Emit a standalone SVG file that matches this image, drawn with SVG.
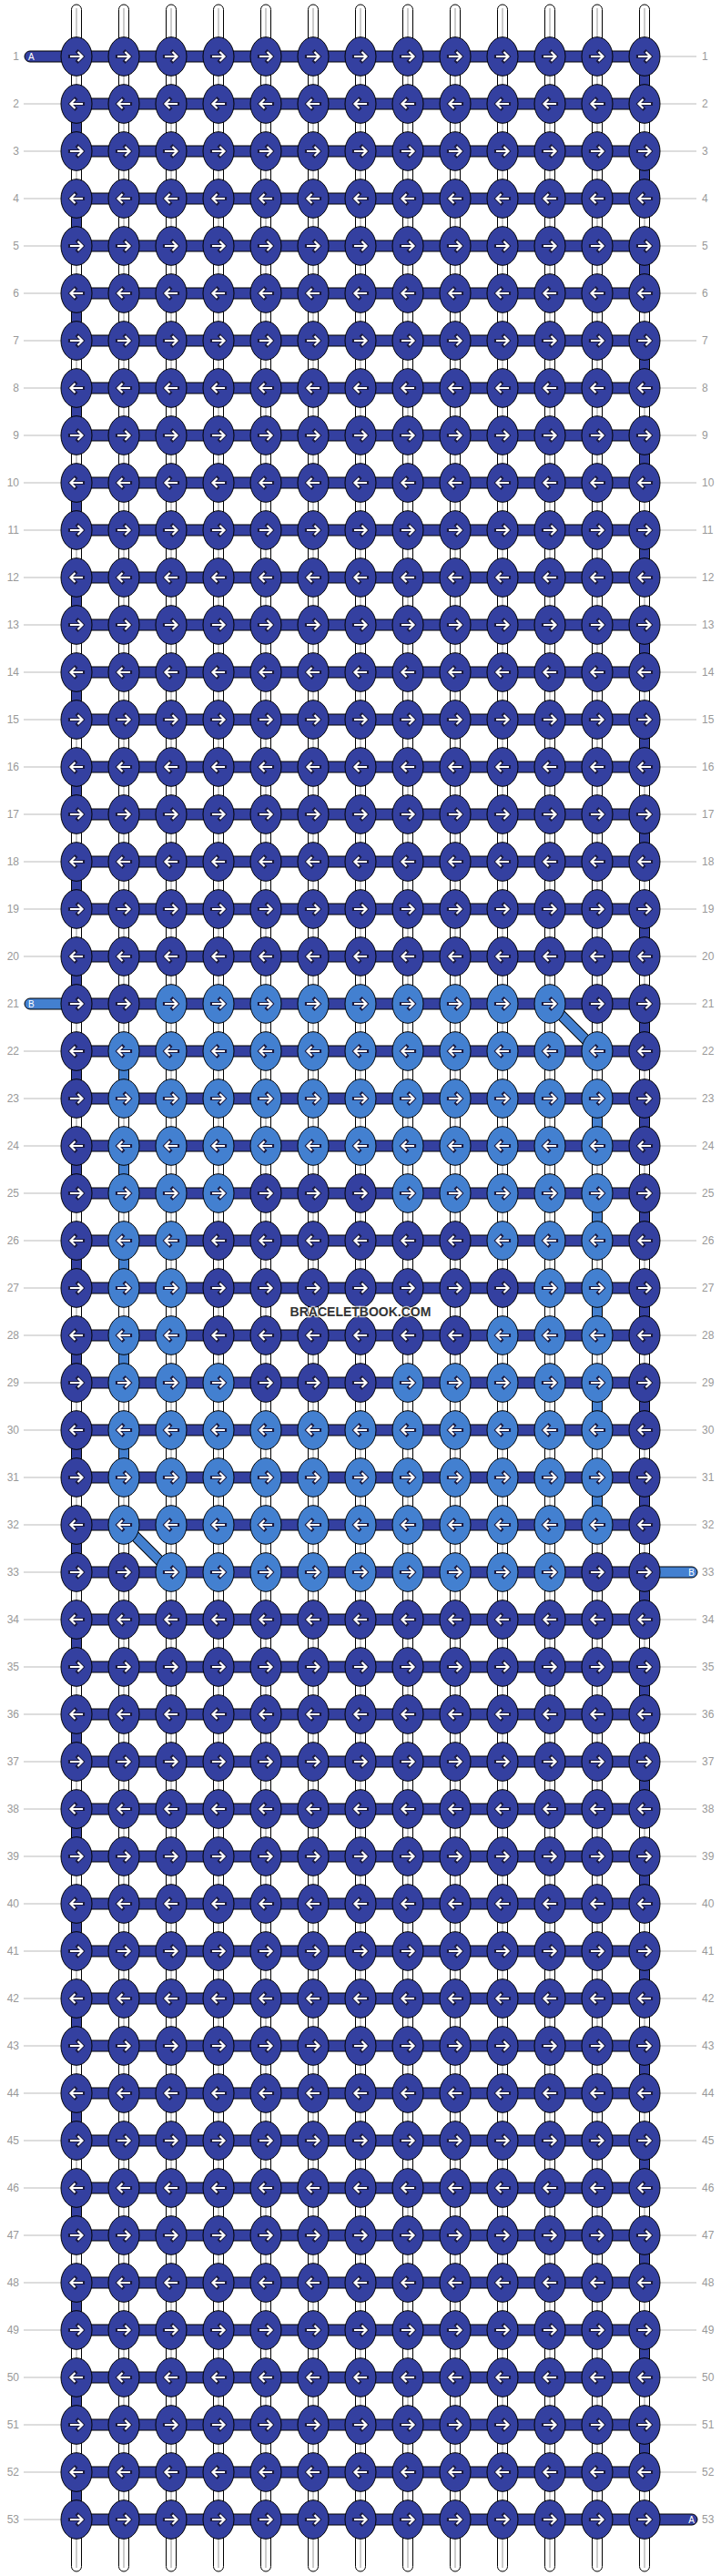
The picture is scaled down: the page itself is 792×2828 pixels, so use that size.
<svg xmlns="http://www.w3.org/2000/svg" width="792" height="2828" viewBox="0 0 792 2828">
<style>
.rod{fill:#fff;stroke:#000;stroke-width:1}
.rl{stroke:#bbb;stroke-width:1.5}
.dk{fill:#3440a0;stroke:#000;stroke-width:1}
.lt{fill:#4380d0;stroke:#000;stroke-width:1}
.ao{fill:none;stroke:#1a1a40;stroke-width:4.2;stroke-linecap:square}
.ai{fill:none;stroke:#fff;stroke-width:2.2;stroke-linecap:butt}
.gl{stroke:#bbb;stroke-width:1;fill:none}
.lb{font-family:"Liberation Sans",Arial,sans-serif;font-size:12px;fill:#999}
.le{text-anchor:end}
.st{font-family:"Liberation Sans",Arial,sans-serif;font-size:10px;fill:#fff}
.wm{font-family:"Liberation Sans",Arial,sans-serif;font-size:14px;font-weight:bold;fill:#333;stroke:#fff;stroke-opacity:0.7;stroke-width:2.5;paint-order:stroke;text-anchor:middle}
</style>
<defs>
<g id="aR"><path class="ao" d="M-7 0H6M1.5-5L6.5 0L1.5 5"/><path class="ai" d="M-7 0H6M1.5-5L6.5 0L1.5 5"/></g>
<g id="aL"><use href="#aR" transform="scale(-1 1)"/></g>
<g id="DR"><ellipse class="dk" rx="17" ry="21.3"/><use href="#aR"/></g>
<g id="DL"><ellipse class="dk" rx="17" ry="21.3"/><use href="#aL"/></g>
<g id="LR"><ellipse class="lt" rx="17" ry="21.3"/><use href="#aR"/></g>
<g id="LL"><ellipse class="lt" rx="17" ry="21.3"/><use href="#aL"/></g>
<rect id="hb" class="dk" x="84" y="-6" width="624" height="12"/>
<g id="rod"><rect class="rod" x="-5.5" y="5" width="11" height="2818" rx="5.5"/><line class="rl" x1="0" y1="9" x2="0" y2="2819"/></g>
</defs>
<g id="connectors">
<g id="strands"><use href="#rod" x="84"/><use href="#rod" x="136"/><use href="#rod" x="188"/><use href="#rod" x="240"/><use href="#rod" x="292"/><use href="#rod" x="344"/><use href="#rod" x="396"/><use href="#rod" x="448"/><use href="#rod" x="500"/><use href="#rod" x="552"/><use href="#rod" x="604"/><use href="#rod" x="656"/><use href="#rod" x="708"/></g>
<path id="turnsA" class="dk" d="M702.5 62h11v52h-11zM702.5 166h11v52h-11zM702.5 270h11v52h-11zM702.5 374h11v52h-11zM702.5 478h11v52h-11zM702.5 582h11v52h-11zM702.5 686h11v52h-11zM702.5 790h11v52h-11zM702.5 894h11v52h-11zM702.5 998h11v52h-11zM702.5 1102h11v52h-11zM702.5 1206h11v52h-11zM702.5 1310h11v52h-11zM702.5 1414h11v52h-11zM702.5 1518h11v52h-11zM702.5 1622h11v52h-11zM702.5 1726h11v52h-11zM702.5 1830h11v52h-11zM702.5 1934h11v52h-11zM702.5 2038h11v52h-11zM702.5 2142h11v52h-11zM702.5 2246h11v52h-11zM702.5 2350h11v52h-11zM702.5 2454h11v52h-11zM702.5 2558h11v52h-11zM702.5 2662h11v52h-11zM78.5 114h11v52h-11zM78.5 218h11v52h-11zM78.5 322h11v52h-11zM78.5 426h11v52h-11zM78.5 530h11v52h-11zM78.5 634h11v52h-11zM78.5 738h11v52h-11zM78.5 842h11v52h-11zM78.5 946h11v52h-11zM78.5 1050h11v52h-11zM78.5 1154h11v52h-11zM78.5 1258h11v52h-11zM78.5 1362h11v52h-11zM78.5 1466h11v52h-11zM78.5 1570h11v52h-11zM78.5 1674h11v52h-11zM78.5 1778h11v52h-11zM78.5 1882h11v52h-11zM78.5 1986h11v52h-11zM78.5 2090h11v52h-11zM78.5 2194h11v52h-11zM78.5 2298h11v52h-11zM78.5 2402h11v52h-11zM78.5 2506h11v52h-11zM78.5 2610h11v52h-11zM78.5 2714h11v52h-11z"/>
<path id="turnsB" class="lt" d="M130.5 1154h11v52h-11zM130.5 1258h11v52h-11zM130.5 1362h11v52h-11zM130.5 1466h11v52h-11zM130.5 1570h11v52h-11zM650.5 1206h11v52h-11zM650.5 1310h11v52h-11zM650.5 1414h11v52h-11zM650.5 1518h11v52h-11zM650.5 1622h11v52h-11z"/>
<g id="rows"><use href="#hb" y="62"/><use href="#hb" y="114"/><use href="#hb" y="166"/><use href="#hb" y="218"/><use href="#hb" y="270"/><use href="#hb" y="322"/><use href="#hb" y="374"/><use href="#hb" y="426"/><use href="#hb" y="478"/><use href="#hb" y="530"/><use href="#hb" y="582"/><use href="#hb" y="634"/><use href="#hb" y="686"/><use href="#hb" y="738"/><use href="#hb" y="790"/><use href="#hb" y="842"/><use href="#hb" y="894"/><use href="#hb" y="946"/><use href="#hb" y="998"/><use href="#hb" y="1050"/><use href="#hb" y="1102"/><use href="#hb" y="1154"/><use href="#hb" y="1206"/><use href="#hb" y="1258"/><use href="#hb" y="1310"/><use href="#hb" y="1362"/><use href="#hb" y="1414"/><use href="#hb" y="1466"/><use href="#hb" y="1518"/><use href="#hb" y="1570"/><use href="#hb" y="1622"/><use href="#hb" y="1674"/><use href="#hb" y="1726"/><use href="#hb" y="1778"/><use href="#hb" y="1830"/><use href="#hb" y="1882"/><use href="#hb" y="1934"/><use href="#hb" y="1986"/><use href="#hb" y="2038"/><use href="#hb" y="2090"/><use href="#hb" y="2142"/><use href="#hb" y="2194"/><use href="#hb" y="2246"/><use href="#hb" y="2298"/><use href="#hb" y="2350"/><use href="#hb" y="2402"/><use href="#hb" y="2454"/><use href="#hb" y="2506"/><use href="#hb" y="2558"/><use href="#hb" y="2610"/><use href="#hb" y="2662"/><use href="#hb" y="2714"/><use href="#hb" y="2766"/></g>
<g id="stubs">
<rect class="dk" x="27" y="56" width="57" height="12" rx="6"/>
<rect class="lt" x="27" y="1096" width="57" height="12" rx="6"/>
<rect class="lt" x="708" y="1720" width="58" height="12" rx="6"/>
<rect class="dk" x="708" y="2760" width="58" height="12" rx="6"/>
<text class="st" x="31" y="66">A</text>
<text class="st" x="31" y="1106">B</text>
<text class="st le" x="763" y="1730">B</text>
<text class="st le" x="763" y="2770">A</text>
</g>
<g id="diagonals">
<path d="M604 1102L656 1154M136 1674L188 1726" stroke="#000" stroke-width="12" fill="none"/>
<path d="M604 1102L656 1154M136 1674L188 1726" stroke="#4380d0" stroke-width="10" fill="none"/>
</g>
<path id="guides" class="gl" d="M26 114H67M26 166H67M26 218H67M26 270H67M26 322H67M26 374H67M26 426H67M26 478H67M26 530H67M26 582H67M26 634H67M26 686H67M26 738H67M26 790H67M26 842H67M26 894H67M26 946H67M26 998H67M26 1050H67M26 1154H67M26 1206H67M26 1258H67M26 1310H67M26 1362H67M26 1414H67M26 1466H67M26 1518H67M26 1570H67M26 1622H67M26 1674H67M26 1726H67M26 1778H67M26 1830H67M26 1882H67M26 1934H67M26 1986H67M26 2038H67M26 2090H67M26 2142H67M26 2194H67M26 2246H67M26 2298H67M26 2350H67M26 2402H67M26 2454H67M26 2506H67M26 2558H67M26 2610H67M26 2662H67M26 2714H67M26 2766H67M725 62H765M725 114H765M725 166H765M725 218H765M725 270H765M725 322H765M725 374H765M725 426H765M725 478H765M725 530H765M725 582H765M725 634H765M725 686H765M725 738H765M725 790H765M725 842H765M725 894H765M725 946H765M725 998H765M725 1050H765M725 1102H765M725 1154H765M725 1206H765M725 1258H765M725 1310H765M725 1362H765M725 1414H765M725 1466H765M725 1518H765M725 1570H765M725 1622H765M725 1674H765M725 1778H765M725 1830H765M725 1882H765M725 1934H765M725 1986H765M725 2038H765M725 2090H765M725 2142H765M725 2194H765M725 2246H765M725 2298H765M725 2350H765M725 2402H765M725 2454H765M725 2506H765M725 2558H765M725 2610H765M725 2662H765M725 2714H765"/>
</g>
<g id="nodes">
<g id="r1" transform="translate(0 62)"><use id="k1-0" href="#DR" x="84"/><use id="k1-1" href="#DR" x="136"/><use id="k1-2" href="#DR" x="188"/><use id="k1-3" href="#DR" x="240"/><use id="k1-4" href="#DR" x="292"/><use id="k1-5" href="#DR" x="344"/><use id="k1-6" href="#DR" x="396"/><use id="k1-7" href="#DR" x="448"/><use id="k1-8" href="#DR" x="500"/><use id="k1-9" href="#DR" x="552"/><use id="k1-10" href="#DR" x="604"/><use id="k1-11" href="#DR" x="656"/><use id="k1-12" href="#DR" x="708"/></g>
<g id="r2" transform="translate(0 114)"><use id="k2-0" href="#DL" x="84"/><use id="k2-1" href="#DL" x="136"/><use id="k2-2" href="#DL" x="188"/><use id="k2-3" href="#DL" x="240"/><use id="k2-4" href="#DL" x="292"/><use id="k2-5" href="#DL" x="344"/><use id="k2-6" href="#DL" x="396"/><use id="k2-7" href="#DL" x="448"/><use id="k2-8" href="#DL" x="500"/><use id="k2-9" href="#DL" x="552"/><use id="k2-10" href="#DL" x="604"/><use id="k2-11" href="#DL" x="656"/><use id="k2-12" href="#DL" x="708"/></g>
<g id="r3" transform="translate(0 166)"><use id="k3-0" href="#DR" x="84"/><use id="k3-1" href="#DR" x="136"/><use id="k3-2" href="#DR" x="188"/><use id="k3-3" href="#DR" x="240"/><use id="k3-4" href="#DR" x="292"/><use id="k3-5" href="#DR" x="344"/><use id="k3-6" href="#DR" x="396"/><use id="k3-7" href="#DR" x="448"/><use id="k3-8" href="#DR" x="500"/><use id="k3-9" href="#DR" x="552"/><use id="k3-10" href="#DR" x="604"/><use id="k3-11" href="#DR" x="656"/><use id="k3-12" href="#DR" x="708"/></g>
<g id="r4" transform="translate(0 218)"><use id="k4-0" href="#DL" x="84"/><use id="k4-1" href="#DL" x="136"/><use id="k4-2" href="#DL" x="188"/><use id="k4-3" href="#DL" x="240"/><use id="k4-4" href="#DL" x="292"/><use id="k4-5" href="#DL" x="344"/><use id="k4-6" href="#DL" x="396"/><use id="k4-7" href="#DL" x="448"/><use id="k4-8" href="#DL" x="500"/><use id="k4-9" href="#DL" x="552"/><use id="k4-10" href="#DL" x="604"/><use id="k4-11" href="#DL" x="656"/><use id="k4-12" href="#DL" x="708"/></g>
<g id="r5" transform="translate(0 270)"><use id="k5-0" href="#DR" x="84"/><use id="k5-1" href="#DR" x="136"/><use id="k5-2" href="#DR" x="188"/><use id="k5-3" href="#DR" x="240"/><use id="k5-4" href="#DR" x="292"/><use id="k5-5" href="#DR" x="344"/><use id="k5-6" href="#DR" x="396"/><use id="k5-7" href="#DR" x="448"/><use id="k5-8" href="#DR" x="500"/><use id="k5-9" href="#DR" x="552"/><use id="k5-10" href="#DR" x="604"/><use id="k5-11" href="#DR" x="656"/><use id="k5-12" href="#DR" x="708"/></g>
<g id="r6" transform="translate(0 322)"><use id="k6-0" href="#DL" x="84"/><use id="k6-1" href="#DL" x="136"/><use id="k6-2" href="#DL" x="188"/><use id="k6-3" href="#DL" x="240"/><use id="k6-4" href="#DL" x="292"/><use id="k6-5" href="#DL" x="344"/><use id="k6-6" href="#DL" x="396"/><use id="k6-7" href="#DL" x="448"/><use id="k6-8" href="#DL" x="500"/><use id="k6-9" href="#DL" x="552"/><use id="k6-10" href="#DL" x="604"/><use id="k6-11" href="#DL" x="656"/><use id="k6-12" href="#DL" x="708"/></g>
<g id="r7" transform="translate(0 374)"><use id="k7-0" href="#DR" x="84"/><use id="k7-1" href="#DR" x="136"/><use id="k7-2" href="#DR" x="188"/><use id="k7-3" href="#DR" x="240"/><use id="k7-4" href="#DR" x="292"/><use id="k7-5" href="#DR" x="344"/><use id="k7-6" href="#DR" x="396"/><use id="k7-7" href="#DR" x="448"/><use id="k7-8" href="#DR" x="500"/><use id="k7-9" href="#DR" x="552"/><use id="k7-10" href="#DR" x="604"/><use id="k7-11" href="#DR" x="656"/><use id="k7-12" href="#DR" x="708"/></g>
<g id="r8" transform="translate(0 426)"><use id="k8-0" href="#DL" x="84"/><use id="k8-1" href="#DL" x="136"/><use id="k8-2" href="#DL" x="188"/><use id="k8-3" href="#DL" x="240"/><use id="k8-4" href="#DL" x="292"/><use id="k8-5" href="#DL" x="344"/><use id="k8-6" href="#DL" x="396"/><use id="k8-7" href="#DL" x="448"/><use id="k8-8" href="#DL" x="500"/><use id="k8-9" href="#DL" x="552"/><use id="k8-10" href="#DL" x="604"/><use id="k8-11" href="#DL" x="656"/><use id="k8-12" href="#DL" x="708"/></g>
<g id="r9" transform="translate(0 478)"><use id="k9-0" href="#DR" x="84"/><use id="k9-1" href="#DR" x="136"/><use id="k9-2" href="#DR" x="188"/><use id="k9-3" href="#DR" x="240"/><use id="k9-4" href="#DR" x="292"/><use id="k9-5" href="#DR" x="344"/><use id="k9-6" href="#DR" x="396"/><use id="k9-7" href="#DR" x="448"/><use id="k9-8" href="#DR" x="500"/><use id="k9-9" href="#DR" x="552"/><use id="k9-10" href="#DR" x="604"/><use id="k9-11" href="#DR" x="656"/><use id="k9-12" href="#DR" x="708"/></g>
<g id="r10" transform="translate(0 530)"><use id="k10-0" href="#DL" x="84"/><use id="k10-1" href="#DL" x="136"/><use id="k10-2" href="#DL" x="188"/><use id="k10-3" href="#DL" x="240"/><use id="k10-4" href="#DL" x="292"/><use id="k10-5" href="#DL" x="344"/><use id="k10-6" href="#DL" x="396"/><use id="k10-7" href="#DL" x="448"/><use id="k10-8" href="#DL" x="500"/><use id="k10-9" href="#DL" x="552"/><use id="k10-10" href="#DL" x="604"/><use id="k10-11" href="#DL" x="656"/><use id="k10-12" href="#DL" x="708"/></g>
<g id="r11" transform="translate(0 582)"><use id="k11-0" href="#DR" x="84"/><use id="k11-1" href="#DR" x="136"/><use id="k11-2" href="#DR" x="188"/><use id="k11-3" href="#DR" x="240"/><use id="k11-4" href="#DR" x="292"/><use id="k11-5" href="#DR" x="344"/><use id="k11-6" href="#DR" x="396"/><use id="k11-7" href="#DR" x="448"/><use id="k11-8" href="#DR" x="500"/><use id="k11-9" href="#DR" x="552"/><use id="k11-10" href="#DR" x="604"/><use id="k11-11" href="#DR" x="656"/><use id="k11-12" href="#DR" x="708"/></g>
<g id="r12" transform="translate(0 634)"><use id="k12-0" href="#DL" x="84"/><use id="k12-1" href="#DL" x="136"/><use id="k12-2" href="#DL" x="188"/><use id="k12-3" href="#DL" x="240"/><use id="k12-4" href="#DL" x="292"/><use id="k12-5" href="#DL" x="344"/><use id="k12-6" href="#DL" x="396"/><use id="k12-7" href="#DL" x="448"/><use id="k12-8" href="#DL" x="500"/><use id="k12-9" href="#DL" x="552"/><use id="k12-10" href="#DL" x="604"/><use id="k12-11" href="#DL" x="656"/><use id="k12-12" href="#DL" x="708"/></g>
<g id="r13" transform="translate(0 686)"><use id="k13-0" href="#DR" x="84"/><use id="k13-1" href="#DR" x="136"/><use id="k13-2" href="#DR" x="188"/><use id="k13-3" href="#DR" x="240"/><use id="k13-4" href="#DR" x="292"/><use id="k13-5" href="#DR" x="344"/><use id="k13-6" href="#DR" x="396"/><use id="k13-7" href="#DR" x="448"/><use id="k13-8" href="#DR" x="500"/><use id="k13-9" href="#DR" x="552"/><use id="k13-10" href="#DR" x="604"/><use id="k13-11" href="#DR" x="656"/><use id="k13-12" href="#DR" x="708"/></g>
<g id="r14" transform="translate(0 738)"><use id="k14-0" href="#DL" x="84"/><use id="k14-1" href="#DL" x="136"/><use id="k14-2" href="#DL" x="188"/><use id="k14-3" href="#DL" x="240"/><use id="k14-4" href="#DL" x="292"/><use id="k14-5" href="#DL" x="344"/><use id="k14-6" href="#DL" x="396"/><use id="k14-7" href="#DL" x="448"/><use id="k14-8" href="#DL" x="500"/><use id="k14-9" href="#DL" x="552"/><use id="k14-10" href="#DL" x="604"/><use id="k14-11" href="#DL" x="656"/><use id="k14-12" href="#DL" x="708"/></g>
<g id="r15" transform="translate(0 790)"><use id="k15-0" href="#DR" x="84"/><use id="k15-1" href="#DR" x="136"/><use id="k15-2" href="#DR" x="188"/><use id="k15-3" href="#DR" x="240"/><use id="k15-4" href="#DR" x="292"/><use id="k15-5" href="#DR" x="344"/><use id="k15-6" href="#DR" x="396"/><use id="k15-7" href="#DR" x="448"/><use id="k15-8" href="#DR" x="500"/><use id="k15-9" href="#DR" x="552"/><use id="k15-10" href="#DR" x="604"/><use id="k15-11" href="#DR" x="656"/><use id="k15-12" href="#DR" x="708"/></g>
<g id="r16" transform="translate(0 842)"><use id="k16-0" href="#DL" x="84"/><use id="k16-1" href="#DL" x="136"/><use id="k16-2" href="#DL" x="188"/><use id="k16-3" href="#DL" x="240"/><use id="k16-4" href="#DL" x="292"/><use id="k16-5" href="#DL" x="344"/><use id="k16-6" href="#DL" x="396"/><use id="k16-7" href="#DL" x="448"/><use id="k16-8" href="#DL" x="500"/><use id="k16-9" href="#DL" x="552"/><use id="k16-10" href="#DL" x="604"/><use id="k16-11" href="#DL" x="656"/><use id="k16-12" href="#DL" x="708"/></g>
<g id="r17" transform="translate(0 894)"><use id="k17-0" href="#DR" x="84"/><use id="k17-1" href="#DR" x="136"/><use id="k17-2" href="#DR" x="188"/><use id="k17-3" href="#DR" x="240"/><use id="k17-4" href="#DR" x="292"/><use id="k17-5" href="#DR" x="344"/><use id="k17-6" href="#DR" x="396"/><use id="k17-7" href="#DR" x="448"/><use id="k17-8" href="#DR" x="500"/><use id="k17-9" href="#DR" x="552"/><use id="k17-10" href="#DR" x="604"/><use id="k17-11" href="#DR" x="656"/><use id="k17-12" href="#DR" x="708"/></g>
<g id="r18" transform="translate(0 946)"><use id="k18-0" href="#DL" x="84"/><use id="k18-1" href="#DL" x="136"/><use id="k18-2" href="#DL" x="188"/><use id="k18-3" href="#DL" x="240"/><use id="k18-4" href="#DL" x="292"/><use id="k18-5" href="#DL" x="344"/><use id="k18-6" href="#DL" x="396"/><use id="k18-7" href="#DL" x="448"/><use id="k18-8" href="#DL" x="500"/><use id="k18-9" href="#DL" x="552"/><use id="k18-10" href="#DL" x="604"/><use id="k18-11" href="#DL" x="656"/><use id="k18-12" href="#DL" x="708"/></g>
<g id="r19" transform="translate(0 998)"><use id="k19-0" href="#DR" x="84"/><use id="k19-1" href="#DR" x="136"/><use id="k19-2" href="#DR" x="188"/><use id="k19-3" href="#DR" x="240"/><use id="k19-4" href="#DR" x="292"/><use id="k19-5" href="#DR" x="344"/><use id="k19-6" href="#DR" x="396"/><use id="k19-7" href="#DR" x="448"/><use id="k19-8" href="#DR" x="500"/><use id="k19-9" href="#DR" x="552"/><use id="k19-10" href="#DR" x="604"/><use id="k19-11" href="#DR" x="656"/><use id="k19-12" href="#DR" x="708"/></g>
<g id="r20" transform="translate(0 1050)"><use id="k20-0" href="#DL" x="84"/><use id="k20-1" href="#DL" x="136"/><use id="k20-2" href="#DL" x="188"/><use id="k20-3" href="#DL" x="240"/><use id="k20-4" href="#DL" x="292"/><use id="k20-5" href="#DL" x="344"/><use id="k20-6" href="#DL" x="396"/><use id="k20-7" href="#DL" x="448"/><use id="k20-8" href="#DL" x="500"/><use id="k20-9" href="#DL" x="552"/><use id="k20-10" href="#DL" x="604"/><use id="k20-11" href="#DL" x="656"/><use id="k20-12" href="#DL" x="708"/></g>
<g id="r21" transform="translate(0 1102)"><use id="k21-0" href="#DR" x="84"/><use id="k21-1" href="#DR" x="136"/><use id="k21-2" href="#LR" x="188"/><use id="k21-3" href="#LR" x="240"/><use id="k21-4" href="#LR" x="292"/><use id="k21-5" href="#LR" x="344"/><use id="k21-6" href="#LR" x="396"/><use id="k21-7" href="#LR" x="448"/><use id="k21-8" href="#LR" x="500"/><use id="k21-9" href="#LR" x="552"/><use id="k21-10" href="#LR" x="604"/><use id="k21-11" href="#DR" x="656"/><use id="k21-12" href="#DR" x="708"/></g>
<g id="r22" transform="translate(0 1154)"><use id="k22-0" href="#DL" x="84"/><use id="k22-1" href="#LL" x="136"/><use id="k22-2" href="#LL" x="188"/><use id="k22-3" href="#LL" x="240"/><use id="k22-4" href="#LL" x="292"/><use id="k22-5" href="#LL" x="344"/><use id="k22-6" href="#LL" x="396"/><use id="k22-7" href="#LL" x="448"/><use id="k22-8" href="#LL" x="500"/><use id="k22-9" href="#LL" x="552"/><use id="k22-10" href="#LL" x="604"/><use id="k22-11" href="#LL" x="656"/><use id="k22-12" href="#DL" x="708"/></g>
<g id="r23" transform="translate(0 1206)"><use id="k23-0" href="#DR" x="84"/><use id="k23-1" href="#LR" x="136"/><use id="k23-2" href="#LR" x="188"/><use id="k23-3" href="#LR" x="240"/><use id="k23-4" href="#LR" x="292"/><use id="k23-5" href="#LR" x="344"/><use id="k23-6" href="#LR" x="396"/><use id="k23-7" href="#LR" x="448"/><use id="k23-8" href="#LR" x="500"/><use id="k23-9" href="#LR" x="552"/><use id="k23-10" href="#LR" x="604"/><use id="k23-11" href="#LR" x="656"/><use id="k23-12" href="#DR" x="708"/></g>
<g id="r24" transform="translate(0 1258)"><use id="k24-0" href="#DL" x="84"/><use id="k24-1" href="#LL" x="136"/><use id="k24-2" href="#LL" x="188"/><use id="k24-3" href="#LL" x="240"/><use id="k24-4" href="#LL" x="292"/><use id="k24-5" href="#LL" x="344"/><use id="k24-6" href="#LL" x="396"/><use id="k24-7" href="#LL" x="448"/><use id="k24-8" href="#LL" x="500"/><use id="k24-9" href="#LL" x="552"/><use id="k24-10" href="#LL" x="604"/><use id="k24-11" href="#LL" x="656"/><use id="k24-12" href="#DL" x="708"/></g>
<g id="r25" transform="translate(0 1310)"><use id="k25-0" href="#DR" x="84"/><use id="k25-1" href="#LR" x="136"/><use id="k25-2" href="#LR" x="188"/><use id="k25-3" href="#LR" x="240"/><use id="k25-4" href="#DR" x="292"/><use id="k25-5" href="#DR" x="344"/><use id="k25-6" href="#DR" x="396"/><use id="k25-7" href="#LR" x="448"/><use id="k25-8" href="#LR" x="500"/><use id="k25-9" href="#LR" x="552"/><use id="k25-10" href="#LR" x="604"/><use id="k25-11" href="#LR" x="656"/><use id="k25-12" href="#DR" x="708"/></g>
<g id="r26" transform="translate(0 1362)"><use id="k26-0" href="#DL" x="84"/><use id="k26-1" href="#LL" x="136"/><use id="k26-2" href="#LL" x="188"/><use id="k26-3" href="#DL" x="240"/><use id="k26-4" href="#DL" x="292"/><use id="k26-5" href="#DL" x="344"/><use id="k26-6" href="#DL" x="396"/><use id="k26-7" href="#DL" x="448"/><use id="k26-8" href="#DL" x="500"/><use id="k26-9" href="#LL" x="552"/><use id="k26-10" href="#LL" x="604"/><use id="k26-11" href="#LL" x="656"/><use id="k26-12" href="#DL" x="708"/></g>
<g id="r27" transform="translate(0 1414)"><use id="k27-0" href="#DR" x="84"/><use id="k27-1" href="#LR" x="136"/><use id="k27-2" href="#LR" x="188"/><use id="k27-3" href="#DR" x="240"/><use id="k27-4" href="#DR" x="292"/><use id="k27-5" href="#DR" x="344"/><use id="k27-6" href="#DR" x="396"/><use id="k27-7" href="#DR" x="448"/><use id="k27-8" href="#DR" x="500"/><use id="k27-9" href="#DR" x="552"/><use id="k27-10" href="#LR" x="604"/><use id="k27-11" href="#LR" x="656"/><use id="k27-12" href="#DR" x="708"/></g>
<g id="r28" transform="translate(0 1466)"><use id="k28-0" href="#DL" x="84"/><use id="k28-1" href="#LL" x="136"/><use id="k28-2" href="#LL" x="188"/><use id="k28-3" href="#DL" x="240"/><use id="k28-4" href="#DL" x="292"/><use id="k28-5" href="#DL" x="344"/><use id="k28-6" href="#DL" x="396"/><use id="k28-7" href="#DL" x="448"/><use id="k28-8" href="#DL" x="500"/><use id="k28-9" href="#LL" x="552"/><use id="k28-10" href="#LL" x="604"/><use id="k28-11" href="#LL" x="656"/><use id="k28-12" href="#DL" x="708"/></g>
<g id="r29" transform="translate(0 1518)"><use id="k29-0" href="#DR" x="84"/><use id="k29-1" href="#LR" x="136"/><use id="k29-2" href="#LR" x="188"/><use id="k29-3" href="#LR" x="240"/><use id="k29-4" href="#DR" x="292"/><use id="k29-5" href="#DR" x="344"/><use id="k29-6" href="#DR" x="396"/><use id="k29-7" href="#LR" x="448"/><use id="k29-8" href="#LR" x="500"/><use id="k29-9" href="#LR" x="552"/><use id="k29-10" href="#LR" x="604"/><use id="k29-11" href="#LR" x="656"/><use id="k29-12" href="#DR" x="708"/></g>
<g id="r30" transform="translate(0 1570)"><use id="k30-0" href="#DL" x="84"/><use id="k30-1" href="#LL" x="136"/><use id="k30-2" href="#LL" x="188"/><use id="k30-3" href="#LL" x="240"/><use id="k30-4" href="#LL" x="292"/><use id="k30-5" href="#LL" x="344"/><use id="k30-6" href="#LL" x="396"/><use id="k30-7" href="#LL" x="448"/><use id="k30-8" href="#LL" x="500"/><use id="k30-9" href="#LL" x="552"/><use id="k30-10" href="#LL" x="604"/><use id="k30-11" href="#LL" x="656"/><use id="k30-12" href="#DL" x="708"/></g>
<g id="r31" transform="translate(0 1622)"><use id="k31-0" href="#DR" x="84"/><use id="k31-1" href="#LR" x="136"/><use id="k31-2" href="#LR" x="188"/><use id="k31-3" href="#LR" x="240"/><use id="k31-4" href="#LR" x="292"/><use id="k31-5" href="#LR" x="344"/><use id="k31-6" href="#LR" x="396"/><use id="k31-7" href="#LR" x="448"/><use id="k31-8" href="#LR" x="500"/><use id="k31-9" href="#LR" x="552"/><use id="k31-10" href="#LR" x="604"/><use id="k31-11" href="#LR" x="656"/><use id="k31-12" href="#DR" x="708"/></g>
<g id="r32" transform="translate(0 1674)"><use id="k32-0" href="#DL" x="84"/><use id="k32-1" href="#LL" x="136"/><use id="k32-2" href="#LL" x="188"/><use id="k32-3" href="#LL" x="240"/><use id="k32-4" href="#LL" x="292"/><use id="k32-5" href="#LL" x="344"/><use id="k32-6" href="#LL" x="396"/><use id="k32-7" href="#LL" x="448"/><use id="k32-8" href="#LL" x="500"/><use id="k32-9" href="#LL" x="552"/><use id="k32-10" href="#LL" x="604"/><use id="k32-11" href="#LL" x="656"/><use id="k32-12" href="#DL" x="708"/></g>
<g id="r33" transform="translate(0 1726)"><use id="k33-0" href="#DR" x="84"/><use id="k33-1" href="#DR" x="136"/><use id="k33-2" href="#LR" x="188"/><use id="k33-3" href="#LR" x="240"/><use id="k33-4" href="#LR" x="292"/><use id="k33-5" href="#LR" x="344"/><use id="k33-6" href="#LR" x="396"/><use id="k33-7" href="#LR" x="448"/><use id="k33-8" href="#LR" x="500"/><use id="k33-9" href="#LR" x="552"/><use id="k33-10" href="#LR" x="604"/><use id="k33-11" href="#DR" x="656"/><use id="k33-12" href="#DR" x="708"/></g>
<g id="r34" transform="translate(0 1778)"><use id="k34-0" href="#DL" x="84"/><use id="k34-1" href="#DL" x="136"/><use id="k34-2" href="#DL" x="188"/><use id="k34-3" href="#DL" x="240"/><use id="k34-4" href="#DL" x="292"/><use id="k34-5" href="#DL" x="344"/><use id="k34-6" href="#DL" x="396"/><use id="k34-7" href="#DL" x="448"/><use id="k34-8" href="#DL" x="500"/><use id="k34-9" href="#DL" x="552"/><use id="k34-10" href="#DL" x="604"/><use id="k34-11" href="#DL" x="656"/><use id="k34-12" href="#DL" x="708"/></g>
<g id="r35" transform="translate(0 1830)"><use id="k35-0" href="#DR" x="84"/><use id="k35-1" href="#DR" x="136"/><use id="k35-2" href="#DR" x="188"/><use id="k35-3" href="#DR" x="240"/><use id="k35-4" href="#DR" x="292"/><use id="k35-5" href="#DR" x="344"/><use id="k35-6" href="#DR" x="396"/><use id="k35-7" href="#DR" x="448"/><use id="k35-8" href="#DR" x="500"/><use id="k35-9" href="#DR" x="552"/><use id="k35-10" href="#DR" x="604"/><use id="k35-11" href="#DR" x="656"/><use id="k35-12" href="#DR" x="708"/></g>
<g id="r36" transform="translate(0 1882)"><use id="k36-0" href="#DL" x="84"/><use id="k36-1" href="#DL" x="136"/><use id="k36-2" href="#DL" x="188"/><use id="k36-3" href="#DL" x="240"/><use id="k36-4" href="#DL" x="292"/><use id="k36-5" href="#DL" x="344"/><use id="k36-6" href="#DL" x="396"/><use id="k36-7" href="#DL" x="448"/><use id="k36-8" href="#DL" x="500"/><use id="k36-9" href="#DL" x="552"/><use id="k36-10" href="#DL" x="604"/><use id="k36-11" href="#DL" x="656"/><use id="k36-12" href="#DL" x="708"/></g>
<g id="r37" transform="translate(0 1934)"><use id="k37-0" href="#DR" x="84"/><use id="k37-1" href="#DR" x="136"/><use id="k37-2" href="#DR" x="188"/><use id="k37-3" href="#DR" x="240"/><use id="k37-4" href="#DR" x="292"/><use id="k37-5" href="#DR" x="344"/><use id="k37-6" href="#DR" x="396"/><use id="k37-7" href="#DR" x="448"/><use id="k37-8" href="#DR" x="500"/><use id="k37-9" href="#DR" x="552"/><use id="k37-10" href="#DR" x="604"/><use id="k37-11" href="#DR" x="656"/><use id="k37-12" href="#DR" x="708"/></g>
<g id="r38" transform="translate(0 1986)"><use id="k38-0" href="#DL" x="84"/><use id="k38-1" href="#DL" x="136"/><use id="k38-2" href="#DL" x="188"/><use id="k38-3" href="#DL" x="240"/><use id="k38-4" href="#DL" x="292"/><use id="k38-5" href="#DL" x="344"/><use id="k38-6" href="#DL" x="396"/><use id="k38-7" href="#DL" x="448"/><use id="k38-8" href="#DL" x="500"/><use id="k38-9" href="#DL" x="552"/><use id="k38-10" href="#DL" x="604"/><use id="k38-11" href="#DL" x="656"/><use id="k38-12" href="#DL" x="708"/></g>
<g id="r39" transform="translate(0 2038)"><use id="k39-0" href="#DR" x="84"/><use id="k39-1" href="#DR" x="136"/><use id="k39-2" href="#DR" x="188"/><use id="k39-3" href="#DR" x="240"/><use id="k39-4" href="#DR" x="292"/><use id="k39-5" href="#DR" x="344"/><use id="k39-6" href="#DR" x="396"/><use id="k39-7" href="#DR" x="448"/><use id="k39-8" href="#DR" x="500"/><use id="k39-9" href="#DR" x="552"/><use id="k39-10" href="#DR" x="604"/><use id="k39-11" href="#DR" x="656"/><use id="k39-12" href="#DR" x="708"/></g>
<g id="r40" transform="translate(0 2090)"><use id="k40-0" href="#DL" x="84"/><use id="k40-1" href="#DL" x="136"/><use id="k40-2" href="#DL" x="188"/><use id="k40-3" href="#DL" x="240"/><use id="k40-4" href="#DL" x="292"/><use id="k40-5" href="#DL" x="344"/><use id="k40-6" href="#DL" x="396"/><use id="k40-7" href="#DL" x="448"/><use id="k40-8" href="#DL" x="500"/><use id="k40-9" href="#DL" x="552"/><use id="k40-10" href="#DL" x="604"/><use id="k40-11" href="#DL" x="656"/><use id="k40-12" href="#DL" x="708"/></g>
<g id="r41" transform="translate(0 2142)"><use id="k41-0" href="#DR" x="84"/><use id="k41-1" href="#DR" x="136"/><use id="k41-2" href="#DR" x="188"/><use id="k41-3" href="#DR" x="240"/><use id="k41-4" href="#DR" x="292"/><use id="k41-5" href="#DR" x="344"/><use id="k41-6" href="#DR" x="396"/><use id="k41-7" href="#DR" x="448"/><use id="k41-8" href="#DR" x="500"/><use id="k41-9" href="#DR" x="552"/><use id="k41-10" href="#DR" x="604"/><use id="k41-11" href="#DR" x="656"/><use id="k41-12" href="#DR" x="708"/></g>
<g id="r42" transform="translate(0 2194)"><use id="k42-0" href="#DL" x="84"/><use id="k42-1" href="#DL" x="136"/><use id="k42-2" href="#DL" x="188"/><use id="k42-3" href="#DL" x="240"/><use id="k42-4" href="#DL" x="292"/><use id="k42-5" href="#DL" x="344"/><use id="k42-6" href="#DL" x="396"/><use id="k42-7" href="#DL" x="448"/><use id="k42-8" href="#DL" x="500"/><use id="k42-9" href="#DL" x="552"/><use id="k42-10" href="#DL" x="604"/><use id="k42-11" href="#DL" x="656"/><use id="k42-12" href="#DL" x="708"/></g>
<g id="r43" transform="translate(0 2246)"><use id="k43-0" href="#DR" x="84"/><use id="k43-1" href="#DR" x="136"/><use id="k43-2" href="#DR" x="188"/><use id="k43-3" href="#DR" x="240"/><use id="k43-4" href="#DR" x="292"/><use id="k43-5" href="#DR" x="344"/><use id="k43-6" href="#DR" x="396"/><use id="k43-7" href="#DR" x="448"/><use id="k43-8" href="#DR" x="500"/><use id="k43-9" href="#DR" x="552"/><use id="k43-10" href="#DR" x="604"/><use id="k43-11" href="#DR" x="656"/><use id="k43-12" href="#DR" x="708"/></g>
<g id="r44" transform="translate(0 2298)"><use id="k44-0" href="#DL" x="84"/><use id="k44-1" href="#DL" x="136"/><use id="k44-2" href="#DL" x="188"/><use id="k44-3" href="#DL" x="240"/><use id="k44-4" href="#DL" x="292"/><use id="k44-5" href="#DL" x="344"/><use id="k44-6" href="#DL" x="396"/><use id="k44-7" href="#DL" x="448"/><use id="k44-8" href="#DL" x="500"/><use id="k44-9" href="#DL" x="552"/><use id="k44-10" href="#DL" x="604"/><use id="k44-11" href="#DL" x="656"/><use id="k44-12" href="#DL" x="708"/></g>
<g id="r45" transform="translate(0 2350)"><use id="k45-0" href="#DR" x="84"/><use id="k45-1" href="#DR" x="136"/><use id="k45-2" href="#DR" x="188"/><use id="k45-3" href="#DR" x="240"/><use id="k45-4" href="#DR" x="292"/><use id="k45-5" href="#DR" x="344"/><use id="k45-6" href="#DR" x="396"/><use id="k45-7" href="#DR" x="448"/><use id="k45-8" href="#DR" x="500"/><use id="k45-9" href="#DR" x="552"/><use id="k45-10" href="#DR" x="604"/><use id="k45-11" href="#DR" x="656"/><use id="k45-12" href="#DR" x="708"/></g>
<g id="r46" transform="translate(0 2402)"><use id="k46-0" href="#DL" x="84"/><use id="k46-1" href="#DL" x="136"/><use id="k46-2" href="#DL" x="188"/><use id="k46-3" href="#DL" x="240"/><use id="k46-4" href="#DL" x="292"/><use id="k46-5" href="#DL" x="344"/><use id="k46-6" href="#DL" x="396"/><use id="k46-7" href="#DL" x="448"/><use id="k46-8" href="#DL" x="500"/><use id="k46-9" href="#DL" x="552"/><use id="k46-10" href="#DL" x="604"/><use id="k46-11" href="#DL" x="656"/><use id="k46-12" href="#DL" x="708"/></g>
<g id="r47" transform="translate(0 2454)"><use id="k47-0" href="#DR" x="84"/><use id="k47-1" href="#DR" x="136"/><use id="k47-2" href="#DR" x="188"/><use id="k47-3" href="#DR" x="240"/><use id="k47-4" href="#DR" x="292"/><use id="k47-5" href="#DR" x="344"/><use id="k47-6" href="#DR" x="396"/><use id="k47-7" href="#DR" x="448"/><use id="k47-8" href="#DR" x="500"/><use id="k47-9" href="#DR" x="552"/><use id="k47-10" href="#DR" x="604"/><use id="k47-11" href="#DR" x="656"/><use id="k47-12" href="#DR" x="708"/></g>
<g id="r48" transform="translate(0 2506)"><use id="k48-0" href="#DL" x="84"/><use id="k48-1" href="#DL" x="136"/><use id="k48-2" href="#DL" x="188"/><use id="k48-3" href="#DL" x="240"/><use id="k48-4" href="#DL" x="292"/><use id="k48-5" href="#DL" x="344"/><use id="k48-6" href="#DL" x="396"/><use id="k48-7" href="#DL" x="448"/><use id="k48-8" href="#DL" x="500"/><use id="k48-9" href="#DL" x="552"/><use id="k48-10" href="#DL" x="604"/><use id="k48-11" href="#DL" x="656"/><use id="k48-12" href="#DL" x="708"/></g>
<g id="r49" transform="translate(0 2558)"><use id="k49-0" href="#DR" x="84"/><use id="k49-1" href="#DR" x="136"/><use id="k49-2" href="#DR" x="188"/><use id="k49-3" href="#DR" x="240"/><use id="k49-4" href="#DR" x="292"/><use id="k49-5" href="#DR" x="344"/><use id="k49-6" href="#DR" x="396"/><use id="k49-7" href="#DR" x="448"/><use id="k49-8" href="#DR" x="500"/><use id="k49-9" href="#DR" x="552"/><use id="k49-10" href="#DR" x="604"/><use id="k49-11" href="#DR" x="656"/><use id="k49-12" href="#DR" x="708"/></g>
<g id="r50" transform="translate(0 2610)"><use id="k50-0" href="#DL" x="84"/><use id="k50-1" href="#DL" x="136"/><use id="k50-2" href="#DL" x="188"/><use id="k50-3" href="#DL" x="240"/><use id="k50-4" href="#DL" x="292"/><use id="k50-5" href="#DL" x="344"/><use id="k50-6" href="#DL" x="396"/><use id="k50-7" href="#DL" x="448"/><use id="k50-8" href="#DL" x="500"/><use id="k50-9" href="#DL" x="552"/><use id="k50-10" href="#DL" x="604"/><use id="k50-11" href="#DL" x="656"/><use id="k50-12" href="#DL" x="708"/></g>
<g id="r51" transform="translate(0 2662)"><use id="k51-0" href="#DR" x="84"/><use id="k51-1" href="#DR" x="136"/><use id="k51-2" href="#DR" x="188"/><use id="k51-3" href="#DR" x="240"/><use id="k51-4" href="#DR" x="292"/><use id="k51-5" href="#DR" x="344"/><use id="k51-6" href="#DR" x="396"/><use id="k51-7" href="#DR" x="448"/><use id="k51-8" href="#DR" x="500"/><use id="k51-9" href="#DR" x="552"/><use id="k51-10" href="#DR" x="604"/><use id="k51-11" href="#DR" x="656"/><use id="k51-12" href="#DR" x="708"/></g>
<g id="r52" transform="translate(0 2714)"><use id="k52-0" href="#DL" x="84"/><use id="k52-1" href="#DL" x="136"/><use id="k52-2" href="#DL" x="188"/><use id="k52-3" href="#DL" x="240"/><use id="k52-4" href="#DL" x="292"/><use id="k52-5" href="#DL" x="344"/><use id="k52-6" href="#DL" x="396"/><use id="k52-7" href="#DL" x="448"/><use id="k52-8" href="#DL" x="500"/><use id="k52-9" href="#DL" x="552"/><use id="k52-10" href="#DL" x="604"/><use id="k52-11" href="#DL" x="656"/><use id="k52-12" href="#DL" x="708"/></g>
<g id="r53" transform="translate(0 2766)"><use id="k53-0" href="#DR" x="84"/><use id="k53-1" href="#DR" x="136"/><use id="k53-2" href="#DR" x="188"/><use id="k53-3" href="#DR" x="240"/><use id="k53-4" href="#DR" x="292"/><use id="k53-5" href="#DR" x="344"/><use id="k53-6" href="#DR" x="396"/><use id="k53-7" href="#DR" x="448"/><use id="k53-8" href="#DR" x="500"/><use id="k53-9" href="#DR" x="552"/><use id="k53-10" href="#DR" x="604"/><use id="k53-11" href="#DR" x="656"/><use id="k53-12" href="#DR" x="708"/></g>
</g>
<g id="labels-left" class="lb le">
<text x="21" y="66">1</text><text x="21" y="118">2</text><text x="21" y="170">3</text><text x="21" y="222">4</text><text x="21" y="274">5</text><text x="21" y="326">6</text><text x="21" y="378">7</text><text x="21" y="430">8</text><text x="21" y="482">9</text><text x="21" y="534">10</text><text x="21" y="586">11</text><text x="21" y="638">12</text><text x="21" y="690">13</text><text x="21" y="742">14</text><text x="21" y="794">15</text><text x="21" y="846">16</text><text x="21" y="898">17</text><text x="21" y="950">18</text><text x="21" y="1002">19</text><text x="21" y="1054">20</text><text x="21" y="1106">21</text><text x="21" y="1158">22</text><text x="21" y="1210">23</text><text x="21" y="1262">24</text><text x="21" y="1314">25</text><text x="21" y="1366">26</text><text x="21" y="1418">27</text><text x="21" y="1470">28</text><text x="21" y="1522">29</text><text x="21" y="1574">30</text><text x="21" y="1626">31</text><text x="21" y="1678">32</text><text x="21" y="1730">33</text><text x="21" y="1782">34</text><text x="21" y="1834">35</text><text x="21" y="1886">36</text><text x="21" y="1938">37</text><text x="21" y="1990">38</text><text x="21" y="2042">39</text><text x="21" y="2094">40</text><text x="21" y="2146">41</text><text x="21" y="2198">42</text><text x="21" y="2250">43</text><text x="21" y="2302">44</text><text x="21" y="2354">45</text><text x="21" y="2406">46</text><text x="21" y="2458">47</text><text x="21" y="2510">48</text><text x="21" y="2562">49</text><text x="21" y="2614">50</text><text x="21" y="2666">51</text><text x="21" y="2718">52</text><text x="21" y="2770">53</text>
</g>
<g id="labels-right" class="lb">
<text x="771" y="66">1</text><text x="771" y="118">2</text><text x="771" y="170">3</text><text x="771" y="222">4</text><text x="771" y="274">5</text><text x="771" y="326">6</text><text x="771" y="378">7</text><text x="771" y="430">8</text><text x="771" y="482">9</text><text x="771" y="534">10</text><text x="771" y="586">11</text><text x="771" y="638">12</text><text x="771" y="690">13</text><text x="771" y="742">14</text><text x="771" y="794">15</text><text x="771" y="846">16</text><text x="771" y="898">17</text><text x="771" y="950">18</text><text x="771" y="1002">19</text><text x="771" y="1054">20</text><text x="771" y="1106">21</text><text x="771" y="1158">22</text><text x="771" y="1210">23</text><text x="771" y="1262">24</text><text x="771" y="1314">25</text><text x="771" y="1366">26</text><text x="771" y="1418">27</text><text x="771" y="1470">28</text><text x="771" y="1522">29</text><text x="771" y="1574">30</text><text x="771" y="1626">31</text><text x="771" y="1678">32</text><text x="771" y="1730">33</text><text x="771" y="1782">34</text><text x="771" y="1834">35</text><text x="771" y="1886">36</text><text x="771" y="1938">37</text><text x="771" y="1990">38</text><text x="771" y="2042">39</text><text x="771" y="2094">40</text><text x="771" y="2146">41</text><text x="771" y="2198">42</text><text x="771" y="2250">43</text><text x="771" y="2302">44</text><text x="771" y="2354">45</text><text x="771" y="2406">46</text><text x="771" y="2458">47</text><text x="771" y="2510">48</text><text x="771" y="2562">49</text><text x="771" y="2614">50</text><text x="771" y="2666">51</text><text x="771" y="2718">52</text><text x="771" y="2770">53</text>
</g>
<text id="watermark" class="wm" x="396" y="1445">BRACELETBOOK.COM</text>
</svg>
